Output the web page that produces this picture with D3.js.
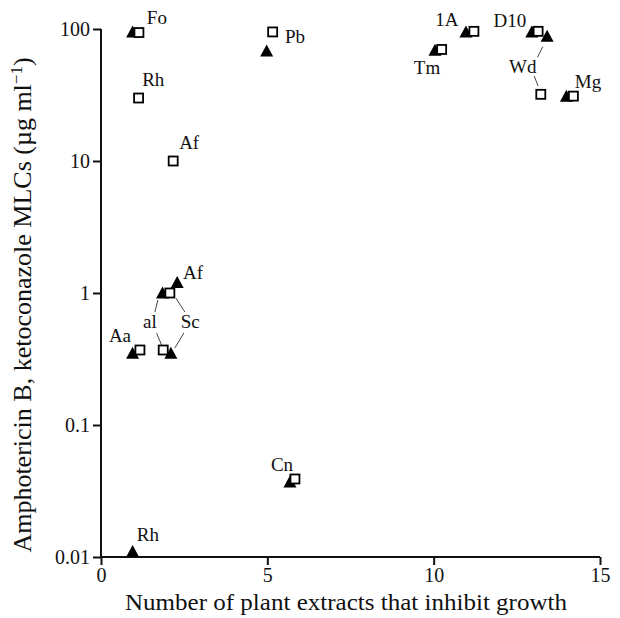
<!DOCTYPE html>
<html>
<head>
<meta charset="utf-8">
<script src="https://cdn.jsdelivr.net/npm/d3@7"></script>
<style>
  body { margin: 0; background: #fff; }
  text { font-family: "Liberation Serif", "Times New Roman", serif; fill: #111; }
</style>
</head>
<body>
<div id="chart"></div>
<script>
// x = number of plant extracts that inhibit growth, y = MLC (µg/ml)
let triangles = [
    [0.95, 95], [4.98, 68], [10.97, 95], [10.04, 69], [12.95, 95], [13.41, 88],
    [13.99, 31], [1.85, 1.0], [2.29, 1.2], [0.95, 0.35], [2.10, 0.35],
    [5.68, 0.037], [0.95, 0.011]
];
let squares = [
    [1.14, 94], [5.16, 95], [1.13, 30], [2.17, 10], [11.21, 96], [10.24, 70],
    [13.14, 96], [13.22, 32], [14.2, 31], [2.07, 1.0], [1.17, 0.37],
    [1.87, 0.37], [5.83, 0.039]
];
// organism labels, anchored in data units
let labels = [
    ["Fo", 1.68, 121], ["Pb", 5.83, 87.5], ["Rh", 1.57, 41], ["Af", 2.65, 13.6],
    ["1A", 10.40, 117], ["Tm", 9.80, 50.7], ["D10", 12.29, 115], ["Wd", 12.68, 51.5],
    ["Mg", 14.64, 39.7], ["Af", 2.77, 1.42], ["al", 1.47, 0.60], ["Sc", 2.68, 0.60],
    ["Aa", 0.57, 0.47], ["Cn", 5.44, 0.05], ["Rh", 1.41, 0.0147]
];
// leader lines joining labels to their points
let leaders = [
    [13.28, 73.4, 13.12, 61.1], [13.02, 44.1, 13.14, 37.0],
    [1.71, 0.885, 1.62, 0.718], [1.67, 0.498, 1.82, 0.404],
    [2.25, 0.916, 2.52, 0.718], [2.49, 0.498, 2.22, 0.383]
];
let xTicks = [0, 5, 10, 15];
let yTicks = [0.01, 0.1, 1, 10, 100];

let width = 620, height = 618;

let svg = d3.select("#chart")
    .append("svg")
    .attr("width", width)
    .attr("height", height);

let xScale = d3.scaleLinear().domain([0, 15]).range([101, 600]);
let yScale = d3.scaleLog().domain([0.01, 100]).range([557, 29]);

// x-axis
let xAxis = d3.axisBottom(xScale)
    .tickValues(xTicks)
    .tickSize(8)
    .tickPadding(3);

let gx = svg.append("g")
    .attr("transform", "translate(0," + yScale(0.01) + ")")
    .call(xAxis);

// y-axis
let yAxis = d3.axisLeft(yScale)
    .tickValues(yTicks)
    .tickFormat(d => d >= 1 ? d3.format("d")(d) : String(d))
    .tickSize(8)
    .tickPadding(3);

let gy = svg.append("g")
    .attr("transform", "translate(" + xScale(0) + ",0)")
    .call(yAxis);

[gx, gy].forEach(g => {
    g.select(".domain").attr("stroke", "#111").attr("stroke-width", 2);
    g.selectAll(".tick line").attr("stroke", "#111").attr("stroke-width", 2);
    g.selectAll(".tick text")
        .attr("font-size", 20)
        .attr("fill", "#111");
});
gx.select(".domain").attr("d", "M" + xScale(0) + ",0H" + xScale(15));
gy.select(".domain").attr("d", "M0," + yScale(100) + "V" + yScale(0.01));

// axis titles
svg.append("text")
    .attr("x", 346)
    .attr("y", 610)
    .attr("text-anchor", "middle")
    .attr("font-size", 23)
    .attr("textLength", 442)
    .attr("lengthAdjust", "spacingAndGlyphs")
    .text("Number of plant extracts that inhibit growth");

let yTitle = svg.append("text")
    .attr("text-anchor", "middle")
    .attr("font-size", 26)
    .attr("transform", "translate(31, 305) rotate(-90)");
yTitle.append("tspan").text("Amphotericin B, ketoconazole MLCs (\u00b5g ml");
yTitle.append("tspan").attr("font-size", 17).attr("dy", -9).text("\u22121");
yTitle.append("tspan").attr("dy", 9).text(")");

// leader lines
svg.selectAll("line.leader")
    .data(leaders)
    .enter()
    .append("line")
    .attr("class", "leader")
    .attr("x1", d => xScale(d[0]))
    .attr("y1", d => yScale(d[1]))
    .attr("x2", d => xScale(d[2]))
    .attr("y2", d => yScale(d[3]))
    .attr("stroke", "#444")
    .attr("stroke-width", 1);

// filled triangles
let tri = d3.path();
tri.moveTo(0, -6.5);
tri.lineTo(6.5, 5.5);
tri.lineTo(-6.5, 5.5);
tri.closePath();

svg.selectAll("path.tri")
    .data(triangles)
    .enter()
    .append("path")
    .attr("class", "tri")
    .attr("d", tri.toString())
    .attr("transform", d => "translate(" + xScale(d[0]) + "," + yScale(d[1]) + ")")
    .attr("fill", "#000");

// open squares
svg.selectAll("rect.sq")
    .data(squares)
    .enter()
    .append("rect")
    .attr("class", "sq")
    .attr("x", d => xScale(d[0]) - 4.5)
    .attr("y", d => yScale(d[1]) - 4.5)
    .attr("width", 9)
    .attr("height", 9)
    .attr("fill", "#fff")
    .attr("stroke", "#000")
    .attr("stroke-width", 1.8);

// labels
svg.selectAll("text.lab")
    .data(labels)
    .enter()
    .append("text")
    .attr("class", "lab")
    .attr("x", d => xScale(d[1]))
    .attr("y", d => yScale(d[2]) + 6)
    .attr("text-anchor", "middle")
    .attr("font-size", 19)
    .text(d => d[0]);
</script>
</body>
</html>
